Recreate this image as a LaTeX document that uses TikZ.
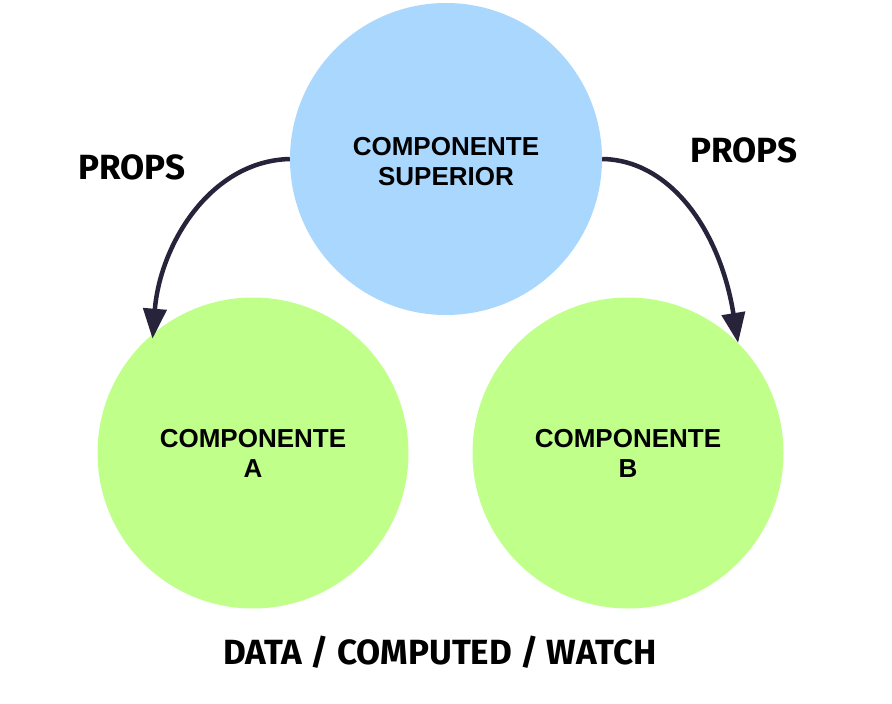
\documentclass[tikz,border=0pt]{standalone}
\usepackage{fontspec}
\setmainfont{Liberation Sans}
\newfontfamily\firafont{Fira Sans}
\usetikzlibrary{arrows.meta}
\definecolor{topblue}{HTML}{A9D7FE}
\definecolor{leafgreen}{HTML}{C1FF8B}
\definecolor{arrowink}{HTML}{26233A}
\tikzset{
  bubble/.style={circle, inner sep=0pt, minimum size=311pt},
  bubbletext/.style={align=center, font=\fontsize{26}{30}\selectfont\bfseries},
  biglabel/.style={font=\firafont\bfseries\fontsize{35}{40}\selectfont},
  flow/.style={line width=4.5pt, draw=arrowink, -{Triangle[length=30pt,width=23pt]}},
}
\begin{document}
\begin{tikzpicture}[x=1pt,y=-1pt]
\useasboundingbox[fill=white] (0,0) rectangle (892,704);
\node[bubble, fill=topblue, minimum size=312pt] (top) at (446,159) {};
\node[bubble, fill=leafgreen] (left) at (253,453) {};
\node[bubble, fill=leafgreen] (right) at (628,453) {};
\node[bubbletext] (toptext) at (446,162) {COMPONENTE\\SUPERIOR};
\node[bubbletext] (lefttext) at (253,453) {COMPONENTE\\A};
\node[bubbletext] (righttext) at (628,453) {COMPONENTE\\B};
\node[biglabel] (propsl) at (132,167) {PROPS};
\node[biglabel] (propsr) at (744,150) {PROPS};
\node[biglabel] (data) at (440,652) {DATA / COMPUTED / WATCH};
\draw[flow, shorten >=-5pt] (top.west) .. controls (210,161) and (160,245) .. (left.130);
\draw[flow] (top.east) .. controls (670,160) and (720,230) .. (right.45);
\end{tikzpicture}
\end{document}
